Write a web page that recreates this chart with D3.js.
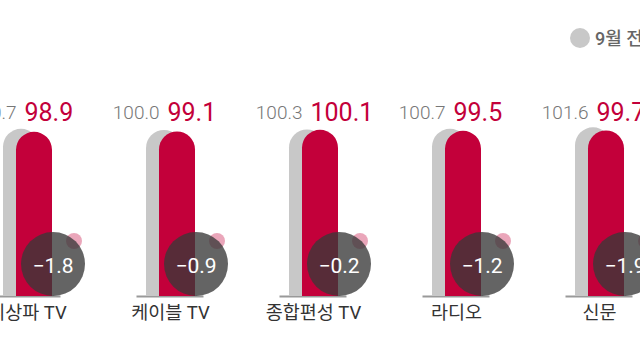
<!DOCTYPE html>
<html>
<head>
<meta charset="utf-8">
<script src="https://cdn.jsdelivr.net/npm/d3@7"></script>
<style>
  body { margin: 0; background: #fff; }
  svg { display: block; font-family: Roboto, "Noto Sans CJK KR", sans-serif; }
</style>
</head>
<body>
<svg width="640" height="350"></svg>
<script>
(function() {
    const svg = d3.select('svg');

    const categories = ['지상파 TV', '케이블 TV', '종합편성 TV', '라디오', '신문'];
    const prevValues = [100.7, 100.0, 100.3, 100.7, 101.6];
    const currValues = [98.9, 99.1, 100.1, 99.5, 99.7];
    const diffLabels = ['−1.8', '−0.9', '−0.2', '−1.2', '−1.9'];
    const legendLabel = '9월 전망';

    const GRAY = '#c8c8c8';
    const RED = '#c3003a';
    const BAR_W = 36;
    const baseY = 296;

    const x = d3.scalePoint()
        .domain(categories)
        .range([27.5, 599.5]);

    const y = d3.scaleLinear()
        .domain([0, 100])
        .range([baseY, 130]);

    const data = categories.map((c, i) => ({
        cat: c, prev: prevValues[i], curr: currValues[i], diff: diffLabels[i]
    }));

    // pill shaped bar: rounded top, flat bottom
    const pill = (x0, top, w) => {
        const r = w / 2;
        return `M${x0},${baseY}V${top + r}A${r},${r} 0 0 1 ${x0 + w},${top + r}V${baseY}Z`;
    };

    const g = svg.append('g')
        .selectAll('g.group')
        .data(data)
        .enter()
        .append('g')
        .attr('class', 'group');

    g.append('line')
        .attr('x1', d => x(d.cat) - 34)
        .attr('x2', d => x(d.cat) + 33)
        .attr('y1', baseY + 0.5)
        .attr('y2', baseY + 0.5)
        .attr('stroke', '#999')
        .attr('stroke-width', 2);

    g.append('path')
        .attr('d', d => pill(x(d.cat) - 24.5, y(d.prev), BAR_W))
        .attr('fill', GRAY);

    g.append('path')
        .attr('d', d => pill(x(d.cat) - 11.5, y(d.curr), BAR_W))
        .attr('fill', RED);

    g.append('circle')
        .attr('cx', d => x(d.cat) + 46.5)
        .attr('cy', 241)
        .attr('r', 8)
        .attr('fill', RED)
        .attr('fill-opacity', 0.35);

    g.append('circle')
        .attr('cx', d => x(d.cat) + 25.5)
        .attr('cy', baseY - 32)
        .attr('r', 32)
        .attr('fill', '#393939')
        .attr('fill-opacity', 0.78);

    g.append('text')
        .attr('x', d => x(d.cat) + 25.5)
        .attr('y', 273)
        .attr('text-anchor', 'middle')
        .attr('fill', '#fff')
        .attr('font-size', 21)
        .text(d => d.diff);

    g.append('text')
        .attr('x', d => x(d.cat) - 11)
        .attr('y', 119)
        .attr('text-anchor', 'end')
        .attr('fill', '#777')
        .attr('font-size', 19)
        .attr('font-weight', 300)
        .text(d => d.prev.toFixed(1));

    g.append('text')
        .attr('x', d => x(d.cat) - 3)
        .attr('y', 121)
        .attr('fill', RED)
        .attr('font-size', 25)
        .attr('font-weight', 400)
        .text(d => d.curr.toFixed(1));

    g.append('text')
        .attr('x', d => x(d.cat))
        .attr('y', 319)
        .attr('text-anchor', 'middle')
        .attr('fill', '#333')
        .attr('font-size', 18.5)
        .text(d => d.cat);

    // legend
    const legend = svg.append('g');
    legend.append('circle')
        .attr('cx', 580)
        .attr('cy', 38)
        .attr('r', 10)
        .attr('fill', GRAY);
    legend.append('text')
        .attr('x', 595)
        .attr('y', 45)
        .attr('fill', '#666')
        .attr('font-size', 18)
        .attr('font-weight', 500)
        .text(legendLabel);
})()
</script>
</body>
</html>
